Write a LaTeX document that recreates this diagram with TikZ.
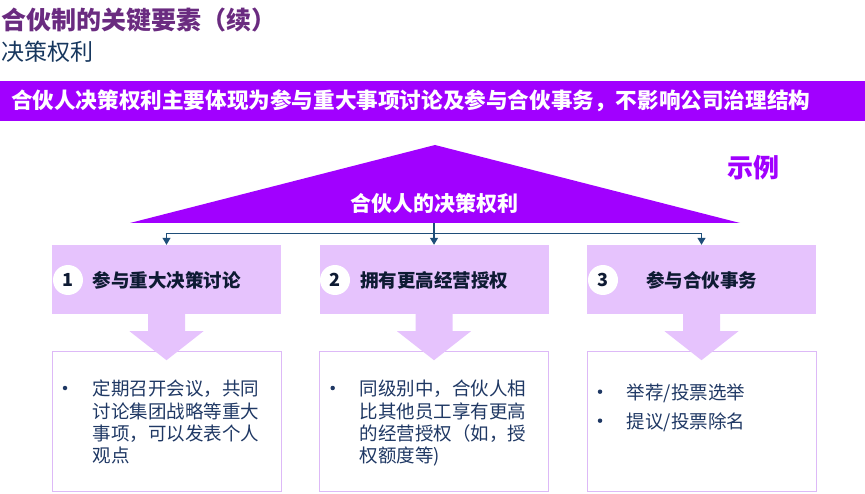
\documentclass[tikz,border=0pt]{standalone}
\usepackage{fontspec}
\setmainfont{Noto Sans CJK SC}
\usetikzlibrary{arrows.meta}
\definecolor{acc}{HTML}{A100FF}
\definecolor{lilac}{HTML}{E6C3FD}
\definecolor{lilacline}{HTML}{DDB9F7}
\definecolor{navy}{HTML}{1F4E79}
\definecolor{ink}{HTML}{1F3864}
\definecolor{titlec}{HTML}{6A2B80}
\definecolor{subc}{HTML}{17375E}
\definecolor{numc}{HTML}{0E1B33}
\begin{document}
\begin{tikzpicture}[x=1pt,y=-1pt,
  headbox/.style={fill=lilac, draw=none, minimum width=229pt, minimum height=69pt, inner sep=0pt},
  bodybox/.style={draw=lilacline, line width=1pt, fill=white, minimum width=229pt, minimum height=140pt, inner sep=0pt},
  numdot/.style={circle, fill=white, minimum size=30pt, inner sep=0pt, font=\fontsize{18}{18}\selectfont\bfseries, text=numc},
  headtxt/.style={font=\fontsize{18.5}{20}\selectfont\bfseries, text=numc, inner sep=0pt},
  bodytxt/.style={font=\fontsize{18.5}{22.3}\selectfont, text=ink, inner sep=0pt, align=left, anchor=north west},
  dotmark/.style={circle, fill=ink, minimum size=4.5pt, inner sep=0pt},
  conn/.style={draw=navy, line width=1.2pt, -{Triangle[length=7pt,width=8pt]}},
]
\useasboundingbox (0,0) rectangle (865,494);
% titles
\node[anchor=west, text=titlec, font=\fontsize{25}{25}\selectfont\bfseries, inner sep=0pt] (title) at (1,20) {合伙制的关键要素（续）};
\node[anchor=west, text=subc, font=\fontsize{23}{23}\selectfont, inner sep=0pt] (subtitle) at (1,52) {决策权利};
% bar
\node[fill=acc, minimum width=865pt, minimum height=40pt, inner sep=0pt, anchor=north west] (bar) at (0,81) {};
\node[anchor=west, text=white, font=\fontsize{21.6}{21.6}\selectfont\bfseries, inner sep=0pt] (bartext) at (11,101) {合伙人决策权利主要体现为参与重大事项讨论及参与合伙事务，不影响公司治理结构};
% example label
\node[text=acc, font=\fontsize{26}{26}\selectfont\bfseries, inner sep=0pt] (example) at (753,168) {示例};
% triangle
\fill[acc] (435,145) -- (740,223) -- (130,223) -- cycle;
\coordinate (tribase) at (434,223);
\node[text=white, font=\fontsize{21}{21}\selectfont\bfseries, inner sep=0pt] (tri) at (434,203) {合伙人的决策权利};
% head boxes
\node[headbox] (box1) at (166.5,279.5) {};
\node[headbox] (box2) at (434,279.5) {};
\node[headbox] (box3) at (701.5,279.5) {};
\node[numdot] (n1) at (68,280) {1};
\node[numdot] (n2) at (335,280) {2};
\node[numdot] (n3) at (603,280) {3};
\node[headtxt] (h1) at (166.5,280) {参与重大决策讨论};
\node[headtxt] (h2) at (434,280) {拥有更高经营授权};
\node[headtxt] (h3) at (701.5,280) {参与合伙事务};
% connectors
\coordinate (hub) at (434,233.5);
\draw[navy, line width=1.2pt] (tribase) -- (hub);
\draw[conn] (hub) -| (box1.north);
\draw[conn] (hub) -- (box2.north);
\draw[conn] (hub) -| (box3.north);
% body boxes
\node[bodybox] (body1) at (166.5,421.8) {};
\node[bodybox] (body2) at (434,421.8) {};
\node[bodybox] (body3) at (701.5,421.8) {};
% fat arrows
\foreach \b in {box1,box2,box3}{
  \begin{scope}[shift={(\b.south)}]
    \fill[lilac] (-18.5,0) -- (18.5,0) -- (18.5,17) -- (37,17) -- (0,46) -- (-37,17) -- (-18.5,17) -- cycle;
  \end{scope}
}
% body text
\node[dotmark] (d1) at (65,388) {};
\node[bodytxt] (t1) at (92.7,380) {定期召开会议，共同\\讨论集团战略等重大\\事项，可以发表个人\\观点};
\node[dotmark] (d2) at (332.7,388) {};
\node[bodytxt] (t2) at (359.3,380) {同级别中，合伙人相\\比其他员工享有更高\\的经营授权（如，授\\权额度等)};
\node[dotmark] (d3) at (600,391.7) {};
\node[bodytxt] (t3) at (626.7,383.5) {举荐/投票选举};
\node[dotmark] (d4) at (600,420.7) {};
\node[bodytxt] (t4) at (626.7,412.5) {提议/投票除名};
\end{tikzpicture}
\end{document}
